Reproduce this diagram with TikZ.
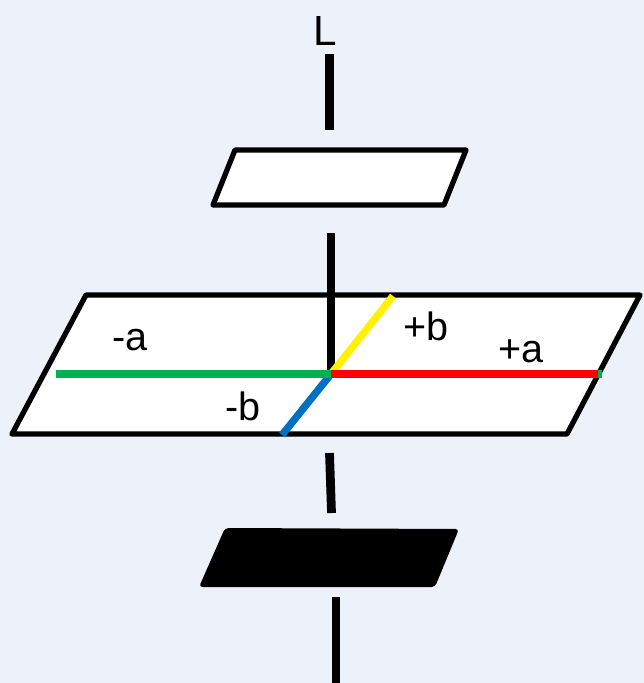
\documentclass[tikz,border=0pt]{standalone}
\usepackage{fontspec}
\setmainfont{Liberation Sans}
\definecolor{bgblue}{RGB}{237,242,250}
\definecolor{axgreen}{RGB}{0,176,80}
\definecolor{axblue}{RGB}{0,112,192}
\begin{document}
\begin{tikzpicture}[x=0.02cm, y=-0.02cm,
    rod/.style={line width=5pt},
    plate/.style={draw, fill=white, line width=3pt, line join=round},
    axis/.style={line width=4.2pt},
    lbl/.style={font=\fontsize{22.5}{26}\selectfont, inner sep=1pt}]
    % Фон
    \fill[bgblue] (0,0) rectangle (644,683);
    \useasboundingbox (0,0) rectangle (644,683);

    % Подпись оси
    \node[lbl, font=\fontsize{24}{28}\selectfont] (L) at (325,31) {L};
    \draw[rod] (329.5,54) -- (329.5,130);

    % Верхняя пластина
    \draw[plate] (235,150) -- (466,150) -- (444,205) -- (213,205) -- cycle;

    % Средняя пластина с осями
    \draw[plate] (86,295) -- (640,295) -- (567,434) -- (12,434) -- cycle;
    \draw[rod] (331,233) -- (331,370);
    \coordinate (O) at (331,374);
    \coordinate (ma) at (56,374);
    \coordinate (pa) at (602,374);
    \coordinate (pb) at (393,296);
    \coordinate (mb) at (282,435);
    \draw[axis, yellow] (O) -- (pb);
    \draw[axis, axblue] (O) -- (mb);
    \draw[axis, axgreen] (ma) -- (pa);
    \draw[axis, red] (O) -- (598,374);

    \node[lbl] (na) at (130,340) {-a};
    \node[lbl] (nb) at (243,406) {-b};
    \node[lbl] (pbl) at (426,326) {+b};
    \node[lbl] (pal) at (521,351) {+a};

    % Нижняя пластина
    \draw[rod] (329.5,453) -- (331.5,513);
    \fill[rounded corners=2pt] (225,528) -- (459,529) -- (435,587) -- (199,587) -- cycle;
    \draw[rod] (336,597) -- (336,683);
\end{tikzpicture}
\end{document}
